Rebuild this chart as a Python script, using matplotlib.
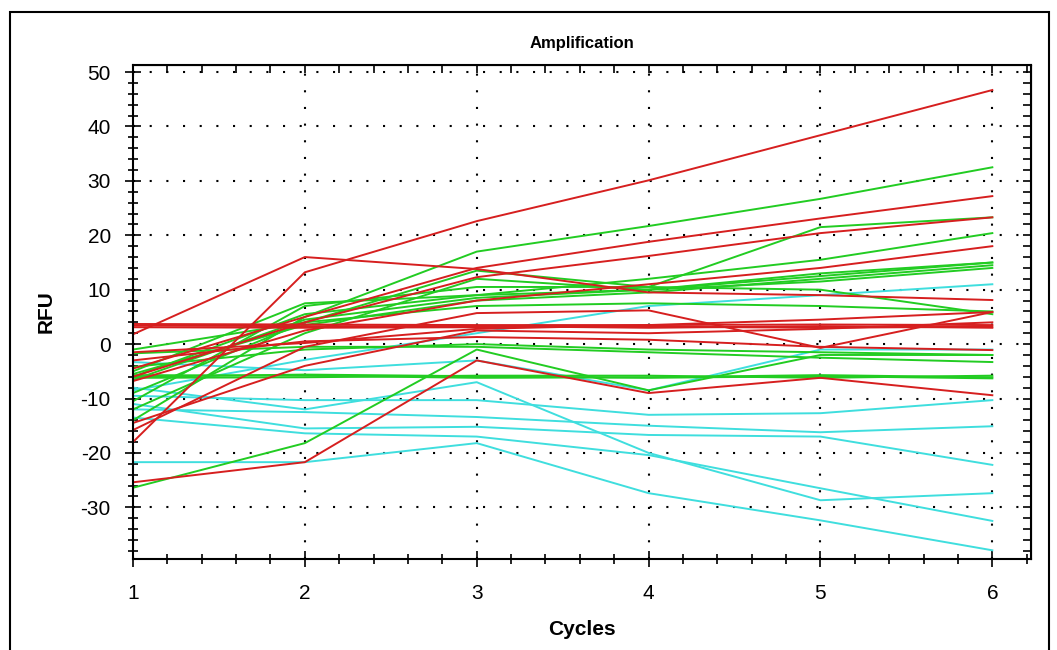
import matplotlib.pyplot as plt
import matplotlib.patches as patches
import numpy as np

plt.rcParams["font.family"] = ["Liberation Sans", "DejaVu Sans"]
plt.rcParams["axes.unicode_minus"] = False

cycles = [1, 2, 3, 4, 5, 6]

# red wells
red_1 = [-18.0, 13.2, 22.6, 30.1, 38.4, 46.7]
red_2 = [1.8, 16.0, 13.8, 9.5, 9.0, 8.1]
red_3 = [-6.0, 4.0, 12.3, 16.2, 20.4, 23.3]
red_4 = [-4.5, 5.0, 14.0, 18.8, 23.1, 27.2]
red_5 = [-6.8, 2.5, 8.0, 11.0, 14.0, 18.0]
red_6 = [3.7, 3.6, 3.5, 3.5, 3.6, 3.5]
red_7 = [3.1, 3.0, 3.1, 3.2, 3.0, 3.2]
red_8 = [3.4, 3.3, 3.3, 3.0, 3.3, 3.0]
red_9 = [-1.5, 0.2, 2.8, 3.5, 4.5, 5.9]
red_10 = [-15.8, -0.5, 5.7, 6.2, -0.7, 5.9]
red_11 = [-3.0, 0.5, 1.3, 0.8, -0.5, -1.1]
red_12 = [-25.4, -21.7, -3.0, -9.0, -6.2, -9.4]
red_13 = [-14.5, -4.0, 2.5, 2.0, 2.8, 4.0]

# green wells
green_1 = [-14.0, 5.0, 17.0, 21.7, 26.7, 32.5]
green_2 = [-9.0, 4.0, 13.5, 10.5, 21.5, 23.3]
green_3 = [-6.0, 5.5, 9.0, 12.0, 15.5, 20.4]
green_4 = [-6.6, 4.5, 8.5, 10.0, 12.5, 15.0]
green_5 = [-5.5, 3.5, 8.0, 9.5, 12.0, 14.5]
green_6 = [-5.0, 7.5, 9.0, 10.0, 11.5, 14.0]
green_7 = [-1.0, 4.0, 7.0, 7.5, 7.0, 6.0]
green_8 = [-4.2, -1.0, 0.0, -1.0, -1.5, -2.0]
green_9 = [-1.7, -0.5, -0.5, -1.5, -2.5, -3.3]
green_10 = [-6.2, -6.1, -5.8, -5.8, -6.2, -5.8]
green_11 = [-5.7, -5.8, -6.2, -6.1, -5.7, -6.1]
green_12 = [-6.0, -5.6, -5.9, -6.2, -5.9, -6.3]
green_13 = [-26.4, -18.2, -1.0, -8.5, -2.0, -2.0]
green_14 = [-12.0, 2.0, 12.0, 10.0, 13.0, 15.0]
green_15 = [-10.5, 7.0, 10.5, 10.5, 10.0, 5.5]

# cyan wells
cyan_1 = [-8.5, -2.9, 2.0, 7.0, 9.0, 11.0]
cyan_2 = [-3.3, -4.8, -3.0, -8.5, -1.0, -1.0]
cyan_3 = [-9.5, -10.3, -10.3, -13.0, -12.7, -10.3]
cyan_4 = [-12.0, -12.5, -13.4, -15.0, -16.2, -15.1]
cyan_5 = [-11.0, -15.5, -15.2, -16.7, -17.0, -22.2]
cyan_6 = [-13.5, -16.4, -17.0, -20.4, -26.5, -32.5]
cyan_7 = [-21.7, -21.7, -18.2, -27.4, -32.4, -37.9]
cyan_8 = [-8.0, -12.0, -7.0, -20.0, -28.7, -27.4]

red_wells = [red_1, red_2, red_3, red_4, red_5, red_6, red_7, red_8, red_9,
             red_10, red_11, red_12, red_13]
green_wells = [green_1, green_2, green_3, green_4, green_5, green_6, green_7, green_8,
               green_9, green_10, green_11, green_12, green_13, green_14, green_15]
cyan_wells = [cyan_1, cyan_2, cyan_3, cyan_4, cyan_5, cyan_6, cyan_7, cyan_8]


fig = plt.figure(figsize=(10.57, 6.5), dpi=100)
ax = fig.add_axes([133 / 1057, 1 - 559 / 650, (1031 - 133) / 1057, (559 - 65) / 650])

for w in cyan_wells:
    ax.plot(cycles, w, color="#3fdede", lw=1.4)
for w in green_wells:
    ax.plot(cycles, w, color="#22cc22", lw=1.4)
for w in red_wells:
    ax.plot(cycles, w, color="#d61f1f", lw=1.4)

ax.set_xlim(1, 6.225)
ax.set_ylim(-39.5, 51.3)

ax.set_xticks(np.arange(1, 7))
ax.set_xticks(np.arange(1, 6.3, 0.2), minor=True)
ax.set_yticks(np.arange(-30, 51, 10))
ax.set_yticks(np.arange(-38, 51, 2), minor=True)
ax.tick_params(which="major", direction="inout", length=12, width=1.2, labelsize=15)
ax.tick_params(axis="x", which="major", pad=12)
ax.tick_params(axis="y", which="major", pad=10)
ax.tick_params(which="minor", direction="inout", length=7, width=1.2)

ax.grid(True, which="major", color="black", linestyle=(0, (1, 7)), linewidth=1.5)

# ticks on top and right, inward only
top = ax.secondary_xaxis("top")
top.set_xticks(np.arange(1, 7))
top.set_xticks(np.arange(1, 6.3, 0.2), minor=True)
top.tick_params(which="both", direction="in", length=6, width=1.2, labeltop=False)
right = ax.secondary_yaxis("right")
right.set_yticks(np.arange(-30, 51, 10))
right.set_yticks(np.arange(-38, 51, 2), minor=True)
right.tick_params(which="both", direction="in", length=6, width=1.2, labelright=False)

for s in ax.spines.values():
    s.set_linewidth(1.5)

ax.set_title("Amplification", fontsize=12, fontweight="bold", pad=12)
ax.set_xlabel("Cycles", fontsize=15, fontweight="bold", labelpad=12)
ax.set_ylabel("RFU", fontsize=15, fontweight="bold", labelpad=18)

# outer frame
fig.patches.append(patches.Rectangle((10 / 1057, -0.01), (1049 - 10) / 1057, 1 - 12 / 650 + 0.01,
                                     transform=fig.transFigure, fill=False, lw=1.5, color="black"))

fig.savefig("out.png", dpi=100)
